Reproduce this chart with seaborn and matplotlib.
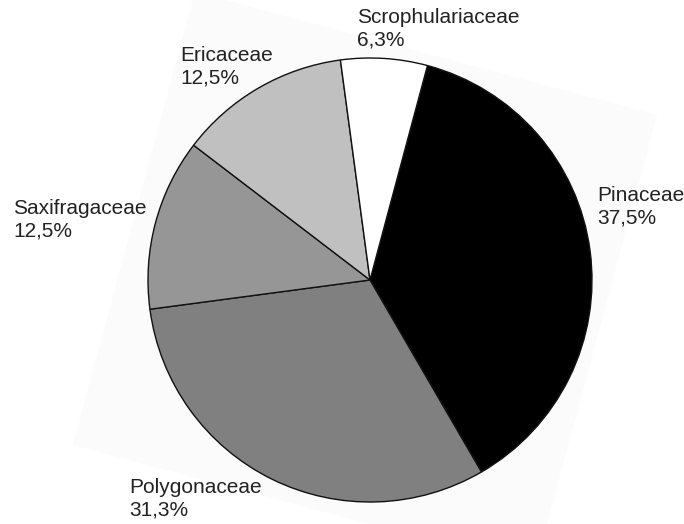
import matplotlib
matplotlib.use("Agg")
import matplotlib.pyplot as plt
from matplotlib.patches import Polygon
import seaborn as sns
import pandas as pd

# Family shares (%)
families = ["Pinaceae", "Polygonaceae", "Saxifragaceae", "Ericaceae", "Scrophulariaceae"]
shares = [37.5, 31.3, 12.5, 12.5, 6.3]
colors = ["#000000", "#808080", "#969696", "#c0c0c0", "#ffffff"]

df = pd.DataFrame({"family": families, "share": shares, "color": colors})

sns.set_theme(style="white")
plt.rcParams["font.family"] = ["Liberation Sans", "DejaVu Sans"]

W, H = 684, 524
fig = plt.figure(figsize=(W / 100, H / 100), dpi=100)
fig.patch.set_facecolor("white")


def fx(px):
    return px / W


def fy(py):
    return 1 - py / H


# faint tilted backdrop behind the pie
corners = [(195, -8), (657, 115), (535, 568), (73, 445)]
fig.patches.append(Polygon([(fx(x), fy(y)) for x, y in corners], closed=True,
                           transform=fig.transFigure, facecolor="#fbfbfb",
                           edgecolor="none", zorder=-5))

# pie: centre (370, 280) px, radius 222 px
cx, cy, r = 370, 280, 222
ax = fig.add_axes([fx(cx - r), fy(cy + r), 2 * r / W, 2 * r / H])
ax.set_zorder(2)
ax.patch.set_alpha(0)
ax.pie(df["share"], colors=df["color"], startangle=75, counterclock=False,
       wedgeprops=dict(edgecolor="#111111", linewidth=1.0))
ax.set_xlim(-1, 1)
ax.set_ylim(-1, 1)
ax.set_aspect("auto")
ax.axis("off")

# label anchors (left edge, top of text) in pixels
label_pos = {
    "Pinaceae": (597, 186),
    "Polygonaceae": (129, 478),
    "Saxifragaceae": (13, 199),
    "Ericaceae": (180, 46),
    "Scrophulariaceae": (357, 8),
}
for fam, val in zip(df["family"], df["share"]):
    x, y = label_pos[fam]
    txt = f"{fam}\n{val:.1f}%".replace(".", ",")
    fig.text(fx(x), fy(y), txt, ha="left", va="top", fontsize=15,
             color="#222222", linespacing=1.25, zorder=3)

fig.savefig("out.png", dpi=100)
